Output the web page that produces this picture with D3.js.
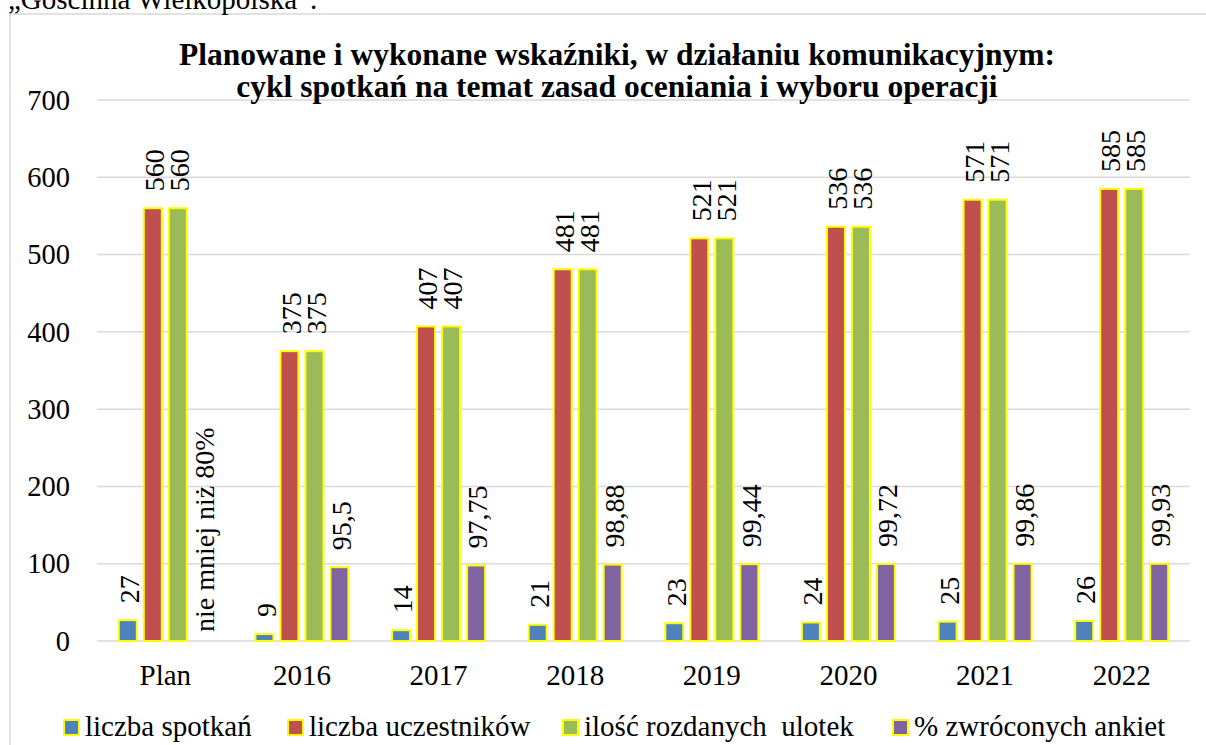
<!DOCTYPE html>
<html>
<head>
<meta charset="utf-8">
<script src="https://cdn.jsdelivr.net/npm/d3@7"></script>
</head>
<body style="margin:0;background:#fff">
<script>
// categories and series
var categories = ['Plan', '2016', '2017', '2018', '2019', '2020', '2021', '2022'];
var seriesNames = ['liczba spotkań', 'liczba uczestników', 'ilość rozdanych  ulotek', '% zwróconych ankiet'];
var seriesColors = ['#4F81BD', '#C0504D', '#9BBB59', '#8064A2'];
var spotkania = [27, 9, 14, 21, 23, 24, 25, 26];
var uczestnicy = [560, 375, 407, 481, 521, 536, 571, 585];
var ulotki = [560, 375, 407, 481, 521, 536, 571, 585];
var ankiety = [null, 95.5, 97.75, 98.88, 99.44, 99.72, 99.86, 99.93];
var planAnkietyLabel = 'nie mniej niż 80%';
var yTicks = [0, 100, 200, 300, 400, 500, 600, 700];
var titleLines = ['Planowane i wykonane wskaźniki, w działaniu komunikacyjnym:',
                  'cykl spotkań na temat zasad oceniania i wyboru operacji'];

var W = 1206, H = 745;
var plot = { left: 97, right: 1190, top: 100, bottom: 641 };
var FONT = 'Times New Roman';

var svg = d3.select('body').append('svg')
    .attr('width', W)
    .attr('height', H);

function txt(parent){
  return parent.append('text').style('font-family', FONT).attr('fill', '#000');
}

// chart border
svg.append('rect')
  .attr('x', 10)
  .attr('y', 14)
  .attr('width', 1240)
  .attr('height', 800)
  .attr('fill', '#fff')
  .attr('stroke', '#d9d9d9')
  .attr('stroke-width', 1.5);

// text above the chart (cut off)
txt(svg)
  .attr('x', 8)
  .attr('y', 9)
  .attr('font-size', '29px')
  .text('„Gościnna Wielkopolska”.');

var x = d3.scaleBand()
  .domain(categories)
  .range([plot.left, plot.right]);

var inner = d3.scaleBand()
  .domain(d3.range(4))
  .range([-50, 50])
  .paddingInner(0.2)
  .paddingOuter(0.1);

var y = d3.scaleLinear()
  .domain([0, 700])
  .range([plot.bottom, plot.top]);

// gridlines
svg.append('g')
  .selectAll('line')
  .data(yTicks)
  .enter().append('line')
    .attr('x1', plot.left)
    .attr('x2', plot.right)
    .attr('y1', function(d){ return y(d); })
    .attr('y2', function(d){ return y(d); })
    .attr('stroke', '#d9d9d9')
    .attr('stroke-width', 1.5);

// y axis tick labels
var yG = svg.append('g');
yTicks.forEach(function(t){
  txt(yG)
    .attr('x', 70)
    .attr('y', y(t))
    .attr('dy', '0.34em')
    .attr('text-anchor', 'end')
    .attr('font-size', '28.5px')
    .text(t);
});

// x axis tick labels
var xG = svg.append('g');
categories.forEach(function(c){
  txt(xG)
    .attr('x', x(c) + x.bandwidth() / 2)
    .attr('y', 685)
    .attr('text-anchor', 'middle')
    .attr('font-size', '29px')
    .text(c);
});

// title
var titleG = svg.append('g');
titleLines.forEach(function(line, i){
  txt(titleG)
    .attr('x', 617)
    .attr('y', 65 + i * 32)
    .attr('text-anchor', 'middle')
    .attr('font-size', '31.5px')
    .attr('font-weight', 'bold')
    .text(line);
});

// bars
var series = [spotkania, uczestnicy, ulotki, ankiety];
var barData = [];
series.forEach(function(values, s){
  values.forEach(function(v, i){
    barData.push({ cat: categories[i], s: s, value: v });
  });
});

var bw = inner.bandwidth();
var groups = svg.append('g');

groups.selectAll('rect')
  .data(barData.filter(function(d){ return d.value !== null; }))
  .enter().append('rect')
    .attr('x', function(d){ return x(d.cat) + x.bandwidth() / 2 + inner(d.s) + 1; })
    .attr('y', function(d){ return y(d.value); })
    .attr('width', bw - 2)
    .attr('height', function(d){ return y(0) - y(d.value); })
    .attr('fill', function(d){ return seriesColors[d.s]; })
    .attr('stroke', '#FFFF00')
    .attr('stroke-width', 2);

// value labels
function fmt(v){ return String(v).replace('.', ','); }

barData.forEach(function(d){
  var cx = x(d.cat) + x.bandwidth() / 2 + inner(d.s) + bw / 2;
  var cy = d.value === null ? y(0) - 9 : y(d.value) - 17;
  txt(groups)
    .attr('transform', 'translate(' + cx + ',' + cy + ') rotate(-90)')
    .attr('dy', '0.4em')
    .attr('font-size', '28px')
    .text(d.value === null ? planAnkietyLabel : fmt(d.value));
});

// legend
var legendX = [63, 287, 562, 892];
var legend = svg.append('g');
seriesNames.forEach(function(name, i){
  var row = legend.append('g')
    .attr('transform', 'translate(' + legendX[i] + ',719)');
  row.append('rect')
    .attr('x', 1)
    .attr('y', 1)
    .attr('width', 15)
    .attr('height', 15)
    .attr('fill', seriesColors[i])
    .attr('stroke', '#FFFF00')
    .attr('stroke-width', 2);
  txt(row)
    .attr('x', 22)
    .attr('y', 17)
    .attr('font-size', '29px')
    .style('white-space', 'pre')
    .text(name);
});
</script>
</body>
</html>
